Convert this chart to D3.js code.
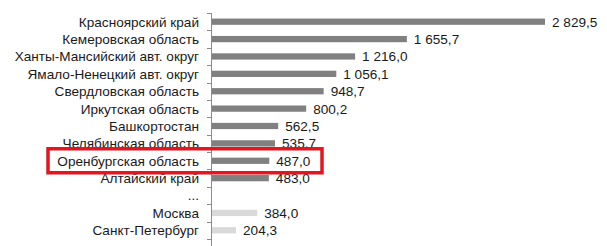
<!DOCTYPE html>
<html>
<head>
<meta charset="utf-8">
<script src="https://cdn.jsdelivr.net/npm/d3@7"></script>
<style>
  body { margin: 0; background: #fff; }
  text { font-family: "Liberation Sans", Arial, sans-serif; }
</style>
</head>
<body>
<svg width="607" height="246"></svg>
<script>
var regions = ["Красноярский край", "Кемеровская область", "Ханты-Мансийский авт. округ",
  "Ямало-Ненецкий авт. округ", "Свердловская область", "Иркутская область", "Башкортостан",
  "Челябинская область", "Оренбургская область", "Алтайский край", "...", "Москва", "Санкт-Петербург"];
var values = [2829.5, 1655.7, 1216.0, 1056.1, 948.7, 800.2, 562.5, 535.7, 487.0, 483.0, null, 384.0, 204.3];
var lightRows = ["Москва", "Санкт-Петербург"];
var highlighted = "Оренбургская область";

var svg = d3.select("svg");
var margin = {top: 13, left: 211};
var height = 226;

var locale = d3.formatLocale({decimal: ",", thousands: " ", grouping: [3]});
var fmt = locale.format(",.1f");

var x = d3.scaleLinear().domain([0, 2829.5]).range([0, 333]);
var y = d3.scaleBand().domain(regions).range([0, height]).paddingInner(0.64).paddingOuter(0.32);
var yTicks = d3.scaleLinear().domain([0, regions.length]).range([0, height]);

var g = svg.append("g").attr("transform", "translate(" + margin.left + "," + margin.top + ")");

// axis line + boundary ticks
g.append("line").attr("x1", 0.5).attr("x2", 0.5).attr("y1", 0).attr("y2", height + 8)
  .attr("stroke", "#8c8c8c");
g.selectAll(".tick").data(d3.range(regions.length + 1)).enter()
  .append("line")
  .attr("x1", -4).attr("x2", 0.5)
  .attr("y1", function(d) { return Math.round(yTicks(d)) + 0.5; })
  .attr("y2", function(d) { return Math.round(yTicks(d)) + 0.5; })
  .attr("stroke", "#8c8c8c");

var rows = regions.map(function(r, i) { return {name: r, value: values[i]}; });

g.selectAll("rect").data(rows.filter(function(d) { return d.value != null; })).enter()
  .append("rect")
  .attr("x", 1)
  .attr("y", function(d) { return y(d.name); })
  .attr("width", function(d) { return x(d.value); })
  .attr("height", y.bandwidth())
  .attr("fill", function(d) { return lightRows.indexOf(d.name) >= 0 ? "#d9d9d9" : "#808080"; });

g.selectAll(".val").data(rows.filter(function(d) { return d.value != null; })).enter()
  .append("text")
  .attr("x", function(d) { return x(d.value) + 8; })
  .attr("y", function(d) { return y(d.name) + y.bandwidth() / 2; })
  .attr("dy", "0.36em")
  .attr("font-size", 13.6)
  .attr("fill", "#1a1a1a")
  .text(function(d) { return fmt(d.value); });

g.selectAll(".lab").data(rows).enter()
  .append("text")
  .attr("x", -12)
  .attr("y", function(d) { return y(d.name) + y.bandwidth() / 2; })
  .attr("dy", "0.36em")
  .attr("text-anchor", "end")
  .attr("font-size", 13.6)
  .attr("fill", "#1a1a1a")
  .text(function(d) { return d.name; });

// highlight box
var hy = y(highlighted) + y.bandwidth() / 2;
svg.append("rect")
  .attr("x", 48).attr("y", margin.top + hy - 12)
  .attr("width", 274).attr("height", 24)
  .attr("fill", "none")
  .attr("stroke", "#e3161f")
  .attr("stroke-width", 3.5);
</script>
</body>
</html>
